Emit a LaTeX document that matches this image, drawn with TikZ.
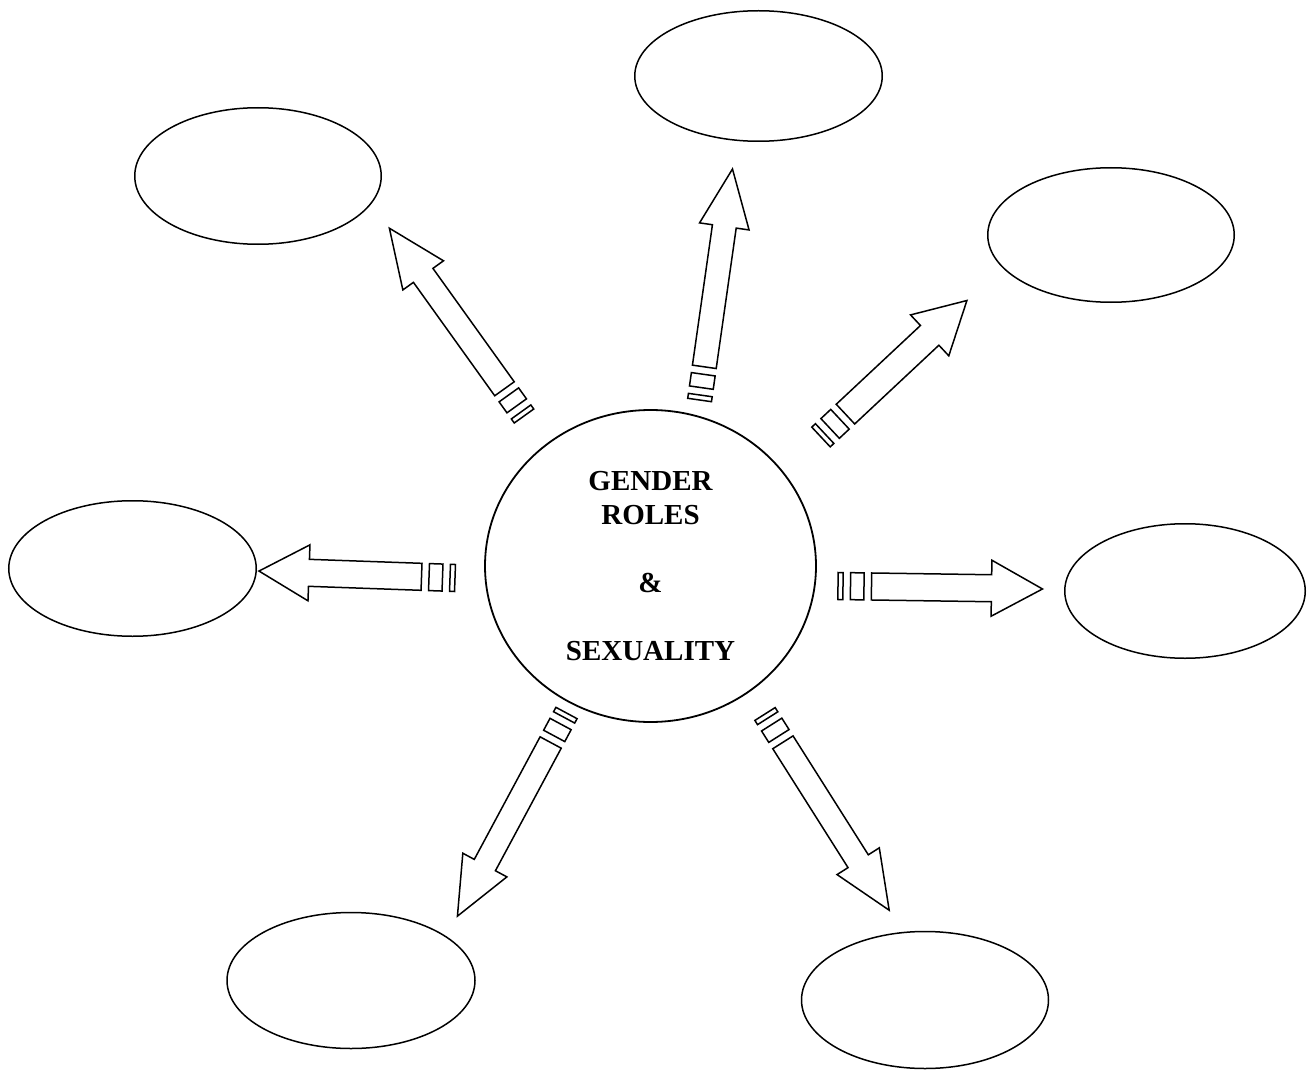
\documentclass[tikz,border=0pt]{standalone}
\usepackage{fontspec}
\setmainfont{Liberation Serif}
\usetikzlibrary{shapes.geometric}

\tikzset{
  blob/.style={draw, ellipse, line width=1.5pt, inner sep=0pt},
  arrowline/.style={draw, line width=1.5pt, line join=miter, fill=white},
}

% canvas position of a named coordinate
\makeatletter
\newcommand\getxy[3]{\pgfpointanchor{#1}{center}\edef#2{\the\pgf@x}\edef#3{\the\pgf@y}}
\makeatother

% striped block arrow: tail, tip, shaft half-width, head half-width, head length
\newcommand\stripedarrow[5]{%
  \getxy{#1}{\sax}{\say}%
  \getxy{#2}{\sbx}{\sby}%
  \pgfmathsetmacro\sang{atan2((\sby)-(\say),(\sbx)-(\sax))}%
  \pgfmathsetmacro\slen{veclen((\sbx)-(\sax),(\sby)-(\say))-1.5}%
  \pgfmathsetmacro\sneck{\slen-#5}%
  \begin{scope}[shift={(#1)}, rotate=\sang, x=1pt, y=1pt]
    \draw[arrowline] (0,-#3) rectangle (5,#3);
    \draw[arrowline] (12.5,-#3) rectangle (26,#3);
    \draw[arrowline] (33.5,-#3) -- (\sneck,-#3) -- (\sneck,-#4) -- (\slen,0)
      -- (\sneck,#4) -- (\sneck,#3) -- (33.5,#3) -- cycle;
  \end{scope}}

\begin{document}
\begin{tikzpicture}[x=1pt,y=-1pt]
\useasboundingbox (0,0) rectangle (1310,1070);

% central topic
\node[blob, line width=1.8pt, minimum width=331pt, minimum height=312pt,
      align=center, font=\fontsize{29}{34}\selectfont\bfseries]
  (hub) at (650.5,566) {GENDER\\ROLES\\[34pt]\&\\[34pt]SEXUALITY};

% empty ideas around it
\node[blob, minimum width=246.5pt, minimum height=136.5pt] (e-nw) at (258,176) {};
\node[blob, minimum width=247.5pt, minimum height=130.5pt] (e-n)  at (758.5,76) {};
\node[blob, minimum width=246.5pt, minimum height=134.5pt] (e-ne) at (1111,235) {};
\node[blob, minimum width=247.5pt, minimum height=135.5pt] (e-w)  at (132.5,568.5) {};
\node[blob, minimum width=240.5pt, minimum height=134.5pt] (e-e)  at (1185,591) {};
\node[blob, minimum width=248pt, minimum height=136pt] (e-sw) at (351,980.5) {};
\node[blob, minimum width=247pt, minimum height=137pt] (e-se) at (925,1000) {};

% arrow ends
\coordinate (nw-tail) at (524,416);   \coordinate (nw-tip) at (388.5,227);
\coordinate (n-tail)  at (699.6,400); \coordinate (n-tip)  at (732.7,167.5);
\coordinate (ne-tail) at (821,437);   \coordinate (ne-tip) at (968,299.5);
\coordinate (w-tail)  at (455,578);   \coordinate (w-tip)  at (257.5,571);
\coordinate (e-tail)  at (838,586);   \coordinate (e-tip)  at (1044,589);
\coordinate (sw-tail) at (566.5,713); \coordinate (sw-tip) at (456.7,917.5);
\coordinate (se-tail) at (765,714);   \coordinate (se-tip) at (890,911.5);

% arrows from the topic to the ideas
\stripedarrow{nw-tail}{nw-tip}{12}{25}{58}
\stripedarrow{n-tail}{n-tip}{12}{25}{58}
\stripedarrow{ne-tail}{ne-tip}{13.5}{28}{51}
\stripedarrow{w-tail}{w-tip}{13.5}{28}{50}
\stripedarrow{e-tail}{e-tip}{13.5}{28}{51}
\stripedarrow{sw-tail}{sw-tip}{12}{25}{58}
\stripedarrow{se-tail}{se-tip}{12}{25}{58}
\end{tikzpicture}
\end{document}
